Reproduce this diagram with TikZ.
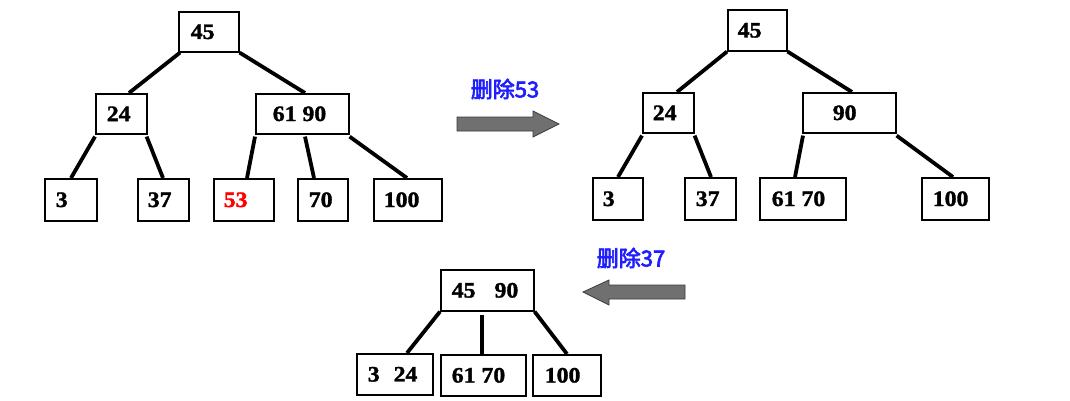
\documentclass[tikz,border=0pt]{standalone}
\usepackage{fontspec}
\setmainfont{Liberation Serif}
\newfontfamily\numfont{Liberation Serif Bold}[FakeBold=1.6, FakeStretch=1.08]
\newfontfamily\cjk{Noto Sans CJK SC}[FakeBold=3]
\definecolor{lblblue}{RGB}{30,30,255}
\definecolor{arrgray}{RGB}{112,112,112}
\definecolor{arredge}{RGB}{60,60,60}
\newcommand\bt[3]{\makebox[#1pt][l]{\hspace*{#2pt}#3}}
\tikzset{
  bx/.style={draw, line width=1.6pt, inner sep=0pt, anchor=north west,
    font=\numfont\fontsize{22}{24}\selectfont},
  edge/.style={line width=3.8pt},
  lbl/.style={text=lblblue, font=\cjk\fontsize{22}{24}\selectfont},
  bigarrow/.style={fill=arrgray, draw=arredge, line width=0.8pt}
}
\begin{document}
\begin{tikzpicture}[x=1pt,y=-1pt]
\useasboundingbox (0,0) rectangle (1070,400);
% ---- tree 1
\node[bx, minimum width=60pt, minimum height=40pt] (a45) at (178,11) {\bt{60}{12}{45}};
\node[bx, minimum width=51pt, minimum height=40pt] (a24) at (95,93) {\bt{51}{11}{24}};
\node[bx, minimum width=93pt, minimum height=40pt] (a6190) at (255,93) {\bt{93}{17}{61 90}};
\node[bx, minimum width=52pt, minimum height=42pt] (a3) at (44,178) {\bt{52}{11}{3}};
\node[bx, minimum width=51pt, minimum height=42pt] (a37) at (137,178) {\bt{51}{10}{37}};
\node[bx, minimum width=60pt, minimum height=42pt] (a53) at (213,178) {\bt{60}{10}{\textcolor{red}{53}}};
\node[bx, minimum width=50pt, minimum height=42pt] (a70) at (297,178) {\bt{50}{11}{70}};
\node[bx, minimum width=68pt, minimum height=42pt] (a100) at (373,178) {\bt{68}{10}{100}};
\draw[edge] ([xshift=2pt]a45.south west) -- ([xshift=34pt]a24.north west);
\draw[edge] (a45.south east) -- ([xshift=50pt]a6190.north west);
\draw[edge] ([yshift=-2pt]a24.south west) -- ([xshift=27pt]a3.north west);
\draw[edge] ([xshift=-1pt,yshift=-2pt]a24.south east) -- ([xshift=26pt]a37.north west);
\draw[edge] ([yshift=-2pt]a6190.south west) -- ([xshift=34pt]a53.north west);
\draw[edge] ([xshift=50pt,yshift=-2pt]a6190.south west) -- ([xshift=17pt]a70.north west);
\draw[edge] ([yshift=-2pt]a6190.south east) -- ([xshift=34pt]a100.north west);
% ---- arrow 1
\node[lbl] (l1) at (505,89) {删除53};
\draw[bigarrow] (457,117) -- (533,117) -- (533,111) -- (559,124) -- (533,137) -- (533,131) -- (457,131) -- cycle;
% ---- tree 2
\node[bx, minimum width=59pt, minimum height=41pt] (b45) at (727,9) {\bt{59}{10}{45}};
\node[bx, minimum width=51pt, minimum height=40pt] (b24) at (642,92) {\bt{51}{10}{24}};
\node[bx, minimum width=93pt, minimum height=40pt] (b90) at (802,92) {\bt{93}{30}{90}};
\node[bx, minimum width=50pt, minimum height=42pt] (b3) at (592,177) {\bt{50}{10}{3}};
\node[bx, minimum width=51pt, minimum height=42pt] (b37) at (684,177) {\bt{51}{11}{37}};
\node[bx, minimum width=86pt, minimum height=42pt] (b6170) at (759,177) {\bt{86}{12}{61 70}};
\node[bx, minimum width=67pt, minimum height=42pt] (b100) at (921,177) {\bt{67}{11}{100}};
\draw[edge] (b45.south west) -- ([xshift=35pt]b24.north west);
\draw[edge] (b45.south east) -- ([xshift=50pt]b90.north west);
\draw[edge] ([yshift=-2pt]b24.south west) -- ([xshift=26pt]b3.north west);
\draw[edge] ([yshift=-2pt]b24.south east) -- ([xshift=27pt]b37.north west);
\draw[edge] ([xshift=1pt,yshift=-2pt]b90.south west) -- ([xshift=36pt]b6170.north west);
\draw[edge] ([yshift=-2pt]b90.south east) -- ([xshift=32pt]b100.north west);
% ---- arrow 2
\node[lbl] (l2) at (631,258) {删除37};
\draw[bigarrow] (685,285) -- (609,285) -- (609,280) -- (583,292) -- (609,305) -- (609,299) -- (685,299) -- cycle;
% ---- tree 3
\node[bx, minimum width=93pt, minimum height=41pt] (c4590) at (440,269) {\bt{93}{11}{45\hspace{19pt}90}};
\node[bx, minimum width=76pt, minimum height=41pt] (c324) at (356,353) {\bt{76}{11}{3\hspace{14pt}24}};
\node[bx, minimum width=85pt, minimum height=41pt] (c6170) at (440,354) {\bt{85}{11}{61 70}};
\node[bx, minimum width=68pt, minimum height=41pt] (c100) at (532,354) {\bt{68}{12}{100}};
\draw[edge] (c4590.south west) -- ([xshift=51pt]c324.north west);
\draw[edge] ([xshift=42pt,yshift=-3pt]c4590.south west) -- ([xshift=42pt]c6170.north west);
\draw[edge] (c4590.south east) -- ([xshift=35pt]c100.north west);
\end{tikzpicture}
\end{document}
